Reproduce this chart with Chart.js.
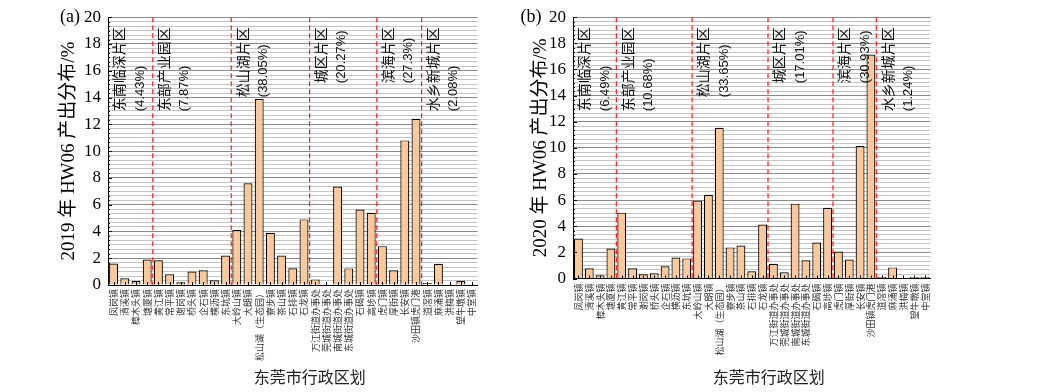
<!DOCTYPE html>
<html>
<head>
<meta charset="utf-8">
<script src="https://cdn.jsdelivr.net/npm/chart.js@4.4.1/dist/chart.umd.min.js"></script>
<style>
  html, body { margin: 0; padding: 0; background: #fff; }
  #wrap { position: relative; width: 1040px; height: 392px; overflow: hidden; }
  canvas { position: absolute; top: 0; }
</style>
</head>
<body>
<div id="wrap">
  <canvas id="c2019" width="500" height="392" style="left:0"></canvas>
  <canvas id="c2020" width="540" height="392" style="left:500px"></canvas>
</div>
<script>
// categories
const districts = ['凤岗镇','清溪镇','樟木头镇','塘厦镇','黄江镇','常平镇','谢岗镇','桥头镇','企石镇','横沥镇','东坑镇',
  '大岭山镇','大朗镇','松山湖（生态园）','寮步镇','茶山镇','石排镇','石龙镇',
  '万江街道办事处','莞城街道办事处','南城街道办事处','东城街道办事处','石碣镇','高埗镇',
  '虎门镇','厚街镇','长安镇','沙田镇虎门港','道滘镇','麻涌镇','洪梅镇','望牛墩镇','中堂镇'];
const groupNames = ['东南临深片区','东部产业园区','松山湖片区','城区片区','滨海片区','水乡新城片区'];
const groupSizes = [4, 7, 7, 6, 4, 5];
const share2019 = ['4.43%','7.87%','38.05%','20.27%','27.3%','2.08%'];
const share2020 = ['6.49%','10.68%','33.65%','17.01%','30.93%','1.24%'];

// HW06 output share by district (%)
const values2019 = [1.6, 0.5, 0.3, 1.9, 1.85, 0.8, 0.2, 1.0, 1.1, 0.35, 2.2,
  4.1, 7.6, 13.9, 3.9, 2.2, 1.25, 4.9,
  0.42, 0, 7.36, 1.24, 5.63, 5.4,
  2.9, 1.1, 10.8, 12.42, 0.15, 1.58, 0, 0.32, 0.02];
const values2020 = [3.06, 0.78, 0.24, 2.3, 5.04, 0.78, 0.32, 0.4, 0.93, 1.61, 1.54,
  5.96, 6.41, 11.54, 2.38, 2.53, 0.55, 4.13,
  1.13, 0.47, 5.73, 1.39, 2.76, 5.42,
  2.07, 1.46, 10.14, 17.15, 0.12, 0.85, 0.03, 0.12, 0.12];

const yMax = 20, yMajor = 2, yMinorPerMajor = 6;
const CJK = "'Noto Sans CJK SC'";
const SERIF = "'Liberation Serif', 'Noto Sans CJK SC'";

function isMajor(v) { return Math.abs(v / yMajor - Math.round(v / yMajor)) < 1e-6; }

const decor = {
  id: 'decor',
  afterDatasetsDraw(chart, args, o) {
    const {ctx, chartArea: a, scales: {x, y}} = chart;
    ctx.save();
    ctx.strokeStyle = '#000'; ctx.lineWidth = 1; ctx.setLineDash([]);
    // inward ticks
    y.ticks.forEach(t => {
      const py = Math.round(y.getPixelForValue(t.value)) + 0.5;
      const len = isMajor(t.value) ? 4 : 2;
      ctx.beginPath(); ctx.moveTo(a.left, py); ctx.lineTo(a.left + len, py); ctx.stroke();
    });
    districts.forEach((d, i) => {
      const px = Math.round(x.getPixelForValue(i)) + 0.5;
      ctx.beginPath(); ctx.moveTo(px, a.bottom); ctx.lineTo(px, a.bottom - 3); ctx.stroke();
    });
    // group separators + labels
    let start = 0;
    groupNames.forEach((g, k) => {
      const bx = k === 0 ? a.left : (x.getPixelForValue(start - 1) + x.getPixelForValue(start)) / 2;
      if (k > 0) {
        ctx.save();
        ctx.strokeStyle = '#ff1a1a'; ctx.lineWidth = 1.2; ctx.setLineDash([5, 3]);
        ctx.beginPath(); ctx.moveTo(bx, a.top); ctx.lineTo(bx, a.bottom); ctx.stroke();
        ctx.restore();
      }
      const l1 = g, l2 = '(' + o.shares[k] + ')';
      const f1 = '14px ' + CJK, f2 = '13px "Liberation Sans"';
      ctx.font = f1; const w1 = ctx.measureText(l1).width;
      ctx.font = f2; const w2 = ctx.measureText(l2).width;
      const bottom = a.top + 10 + Math.max(w1, w2);
      ctx.fillStyle = '#111'; ctx.textAlign = 'left'; ctx.textBaseline = 'middle';
      [[l1, f1, 11], [l2, f2, 32]].forEach(([txt, f, dx]) => {
        ctx.save();
        ctx.translate(bx + dx, bottom); ctx.rotate(-Math.PI / 2);
        ctx.font = f; ctx.fillText(txt, 0, 0);
        ctx.restore();
      });
      start += groupSizes[k];
    });
    // panel tag and x title
    ctx.fillStyle = '#000'; ctx.textAlign = 'center'; ctx.textBaseline = 'middle';
    ctx.font = '18px "Liberation Serif"';
    ctx.fillText(o.tag, o.tagX, 17);
    ctx.font = '16px ' + CJK;
    ctx.fillStyle = '#222';
    ctx.fillText('东莞市行政区划', (a.left + a.right) / 2 + 17, 377);
    ctx.restore();
  }
};

function makeChart(id, values, shares, tag, L) {
  return new Chart(document.getElementById(id), {
    type: 'bar',
    data: {
      labels: districts,
      datasets: [{
        data: values,
        backgroundColor: '#f9c99b',
        borderColor: '#000',
        borderWidth: 1.2,
        borderSkipped: 'start',
        barPercentage: L.bar,
        categoryPercentage: 1
      }]
    },
    options: {
      responsive: false,
      animation: false,
      devicePixelRatio: 1,
      layout: { padding: { top: L.top, right: L.right, left: 0, bottom: 0 } },
      plugins: {
        legend: { display: false },
        tooltip: { enabled: false },
        decor: { shares: shares, tag: tag, tagX: L.tagX }
      },
      scales: {
        x: {
          afterFit: s => { s.height = L.xh; },
          grid: { display: false, drawTicks: false },
          border: { display: true, color: '#000', width: 1 },
          ticks: {
            autoSkip: false, maxRotation: 90, minRotation: 90, padding: L.xpad,
            color: '#333', font: { family: CJK, size: 9 }
          }
        },
        y: {
          min: 0, max: yMax,
          afterFit: s => { s.width = L.yw; },
          afterBuildTicks: s => {
            const n = yMax / yMajor * yMinorPerMajor;
            s.ticks = Array.from({length: n + 1}, (_, i) => ({ value: i * yMax / n }));
          },
          grid: {
            drawTicks: false,
            color: c => isMajor(c.tick.value) ? '#8a8a8a' : '#c4c4c4',
            lineWidth: 1
          },
          border: { display: true, color: '#000', width: 1 },
          ticks: {
            autoSkip: false, padding: 7, color: '#000',
            font: { family: SERIF, size: 17 },
            callback: v => isMajor(v) ? String(Math.round(v)) : ''
          },
          title: {
            display: true, text: tag === '(a)' ? '2019 年 HW06 产出分布/%' : '2020 年 HW06 产出分布/%',
            color: '#000', font: { family: SERIF, size: 19 },
            padding: { top: L.ytitle, bottom: 0 }
          }
        }
      }
    },
    plugins: [decor]
  });
}

makeChart('c2019', values2019, share2019, '(a)',
  { top: 16, right: 22.4, xh: 107, yw: 108, xpad: 4, ytitle: 57.6, tagX: 70, bar: 0.8 });
makeChart('c2020', values2020, share2020, '(b)',
  { top: 16, right: 109.5, xh: 113.5, yw: 73, xpad: 5, ytitle: 29.6, tagX: 31, bar: 0.82 });
</script>
</body>
</html>
